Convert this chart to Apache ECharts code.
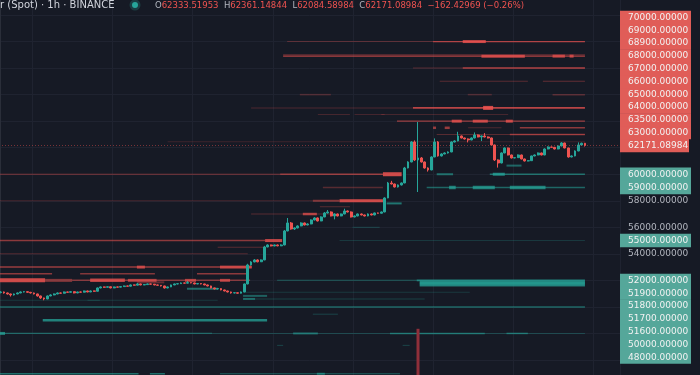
<!DOCTYPE html>
<html><head><meta charset="utf-8">
<script src="https://cdn.jsdelivr.net/npm/echarts@6/dist/echarts.min.js"></script>
<style>html,body{margin:0;padding:0;background:#161a25;overflow:hidden}#c{width:700px;height:375px}</style>
</head><body><div id="c"></div>
<script>
// ---- DATA ----
// hourly candles [open, close, low, high]
const ohlc = [
[51080,51127,51020,51190],[51127,51052,51000,51160],[51052,50977,50930,51080],[50977,50901,50780,51000],[50901,50977,50860,51010],
[50977,51052,50950,51090],[51052,51127,51030,51170],[51127,51150,51090,51200],[51150,51100,51060,51180],[51100,51052,51010,51130],
[51052,50977,50940,51080],[50977,50826,50780,51000],[50826,50675,50600,50850],[50675,50600,50500,50700],[50600,50826,50580,50860],
[50826,50901,50800,50950],[50901,50977,50880,51010],[50977,51052,50950,51090],[51052,51030,50990,51080],[51030,51127,51010,51160],
[51127,51100,51070,51150],[51100,51150,51080,51190],[51150,51052,51020,51170],[51052,51127,51030,51150],[51127,51110,51080,51160],
[51110,51203,51090,51230],[51203,51127,51100,51230],[51127,51203,51110,51240],[51203,51180,51140,51230],[51180,51429,51160,51460],
[51429,51505,51400,51540],[51505,51480,51440,51530],[51480,51520,51460,51560],[51520,51429,51400,51540],[51429,51505,51410,51530],
[51505,51490,51460,51530],[51490,51530,51470,51560],[51530,51580,51510,51610],[51580,51560,51530,51600],[51560,51655,51540,51690],
[51655,51640,51610,51680],[51640,51730,51620,51800],[51730,51655,51630,51750],[51655,51680,51640,51710],[51680,51730,51660,51760],
[51730,51710,51680,51750],[51710,51655,51630,51730],[51655,51630,51600,51680],[51630,51580,51540,51650],[51580,51429,51380,51600],
[51429,51505,51400,51530],[51505,51655,51490,51680],[51655,51730,51640,51760],[51730,51750,51700,51790],[51750,51806,51730,51840],
[51806,51790,51760,51830],[51790,51830,51770,51950],[51830,51806,51780,51850],[51806,51730,51700,51830],[51730,51760,51710,51790],
[51760,51730,51700,51780],[51730,51655,51630,51750],[51655,51580,51550,51680],[51580,51429,51400,51600],[51429,51354,51320,51450],
[51354,51380,51330,51410],[51380,51278,51250,51400],[51278,51203,51170,51300],[51203,51127,51090,51220],[51127,51052,51000,51150],
[51052,51070,51020,51100],[51070,51030,50990,51090],[51030,51127,51010,51160],[51127,51730,51100,51760],[51730,53162,51700,53250],
[53162,53388,53120,53450],[53388,53539,53360,53600],[53539,53400,53360,53580],[53400,53539,53380,53580],[53539,54518,53520,54600],
[54518,54669,54490,54720],[54669,54594,54560,54700],[54594,54669,54570,54700],[54669,54600,54570,54700],[54600,54669,54580,54720],
[54669,55724,54640,55800],[55724,56327,55700,56700],[56327,55875,55820,56400],[55875,55950,55800,56000],[55950,56101,55920,56150],
[56101,56327,56080,56380],[56327,56176,56140,56360],[56176,56252,56150,56300],[56252,56553,56230,56600],[56553,56704,56520,56760],
[56704,56478,56440,56740],[56478,56779,56460,56830],[56779,57081,56760,57150],[57081,57156,57040,57300],[57156,56855,56820,57200],
[56855,57006,56600,57050],[57006,56855,56820,57040],[56855,57006,56830,57040],[57006,57232,56980,57400],[57232,57156,57120,57270],
[57156,56779,56740,57200],[56779,56855,56750,56900],[56855,57006,56830,57040],[57006,56930,56900,57040],[56930,56855,56820,56960],
[56855,57006,56830,57050],[57006,56930,56900,57040],[56930,57081,56900,57110],[57081,57060,57030,57110],[57060,57156,57040,57190],
[57156,58211,57130,58260],[58211,59341,58190,59420],[59341,59266,59230,59500],[59266,59040,59000,59300],[59040,59191,59000,59230],
[59191,59341,59150,59380],[59341,60472,59320,60550],[60472,60924,60440,60980],[60924,62431,60900,62500],[62431,61075,61000,62550],
[61075,61226,58660,63940],[61226,60924,60880,61300],[60924,60472,60420,60960],[60472,60321,60200,60520],[60321,61301,60300,61350],
[61301,62431,61280,62700],[62431,61377,61330,62500],[61377,61527,61340,61580],[61527,61602,61500,61650],[61602,61678,61560,61720],
[61678,62431,61660,62480],[62431,62507,62400,62560],[62507,62884,62480,63200],[62884,62733,62700,62920],[62733,62657,62620,62760],
[62657,62582,62400,62700],[62582,62733,62560,62780],[62733,62959,62700,63150],[62959,62808,62780,63000],[62808,62884,62500,62920],
[62884,62808,62780,63100],[62808,62733,62700,62850],[62733,62205,62180,62760],[62205,61075,61000,62240],[61075,60849,60500,61120],
[60849,61602,60820,61650],[61602,61979,61580,62020],[61979,61452,61420,62010],[61452,61226,61190,61480],[61226,61250,61200,61290],
[61250,61452,61230,61490],[61452,61150,61120,61480],[61150,61000,60960,61180],[61000,61020,60970,61060],[61020,61377,61000,61400],
[61377,61452,61350,61490],[61452,61602,61430,61640],[61602,61452,61420,61630],[61452,61904,61430,61950],[61904,62054,61880,62100],
[62054,62030,62000,62080],[62030,61904,61870,62060],[61904,62130,61880,62170],[62130,62356,62100,62420],[62356,61979,61950,62380],
[61979,61301,61250,62000],[61301,61377,61270,61420],[61377,61753,61350,61800],[61753,62205,61730,62400],[62205,62333,62180,62380],
[62333.51953,62171.08984,62084.58984,62361.14844]
];
const futureSlots = 10;
const lastPrice = 62171.08984;
const lastChange = -162.42969;
const lastChangePct = -0.26;
const symbolTitle = 'r (Spot) · 1h · BINANCE';
// labelled price levels on the price scale
const askLevels = [70000, 69000, 68900, 68000, 67000, 66000, 65000, 64000, 63500, 63000];
const bidLevels = [60000, 59000, 55000, 52000, 51900, 51800, 51700, 51600, 50000, 48000];
const priceTickStep = 2000;
// resting order segments: [price, fromBar, toBar, thickness, strength]
const askSegments = [
[70000,85.8,129.5,1,0.3],[70000,129.5,175,1.2,0.7],[70000,138.4,145.3,3,0.8],
[69000,84.6,175,1,0.35],[68900,84.6,175,1.2,0.7],[68900,144,157,3,0.75],[68900,165.3,169,3,0.7],[68900,170.4,171.6,3,0.7],
[68000,123.5,138.4,1,0.3],[68000,138.4,175,1.5,0.7],
[67000,131.5,157.9,1,0.3],[67000,162.4,175,1,0.35],
[66000,89.6,98.9,1.5,0.25],[66000,139.9,147.1,1.5,0.25],[66000,165.3,175,1.5,0.3],
[65000,75,123.5,1,0.25],[65000,123.5,175,1.6,0.75],[65000,144.5,147.5,4,0.85],
[64500,95,104.6,1,0.22],[64500,106,115,1,0.22],[64500,114,152,1,0.22],
[64000,118.7,175,1.3,0.6],[64000,135.1,138.1,3,0.75],[64000,141.4,145.9,3,0.75],[64000,151.3,153.4,3,0.75],
[63500,129.5,130.4,2.5,0.6],[63500,133,134.5,2.5,0.6],[63500,140,150,1,0.25],[63500,155.5,175,1.5,0.55],
[63000,130.6,175,1,0.3],[63000,152.5,175,1.5,0.5],
[62450,50,175,1,0.18],
[60000,-1,83.7,1.2,0.45],[60000,83.7,114.5,1.5,0.6],[60000,114.5,120.1,4,0.85],
[59000,96.5,114.5,1.5,0.3],
[58000,-1,93.5,1,0.22],[58000,93.5,101.5,2,0.5],[58000,101.5,114.5,3,0.85],
[57550,95.6,104.6,1,0.3],
[57000,75,100,1,0.3],[57000,90.5,94.7,2.5,0.7],
[55000,-1,79.2,1.5,0.55],[55000,79.2,84.3,3,0.8],
[54500,65,79,1,0.3],
[54000,-1,74,1,0.28],
[53000,-1,75.2,1.5,0.6],[53000,40.8,43.2,3,0.7],[53000,65.7,75.2,3,0.7],
[52500,-1,15.4,1.5,0.55],[52500,23.8,46.2,1.5,0.5],[52500,58.8,74.1,1.5,0.55],
[52000,-1,13.3,4,0.85],[52000,13.3,21.4,3,0.5],[52000,21.4,74.7,1.5,0.5],[52000,26.8,37.2,3.5,0.75],
[52000,38.1,46.7,3,0.65],[52000,55.2,58.5,3,0.65],[52000,65.7,68.7,3,0.65],
[51850,40.8,49,2,0.35]
];
const bidSegments = [
[60000,130.6,135.5,2,0.6],[60000,146.5,175,1.5,0.6],[60000,147.4,151,3,0.75],
[60650,151.5,156,2,0.55],
[59000,127.6,175,1.5,0.55],[59000,134.3,136.3,3.5,0.7],[59000,141.4,148,3.5,0.7],[59000,152.5,163.2,3.5,0.7],
[57800,115.6,120.1,2,0.65],
[56000,105.4,113.5,1,0.3],
[55000,101.5,175,1,0.22],
[52000,82.8,124.6,1,0.45],[52000,124.6,175,1.8,0.75],[51900,125.5,175,1.8,0.75],[51800,125.5,175,1.8,0.8],
[51700,125.5,175,1.8,0.8],[51600,125.5,175,1.8,0.7],
[51370,55.8,65.1,2,0.6],
[51100,72.6,140.5,1,0.22],
[50830,72.6,79.8,2,0.5],
[50600,72.6,76.2,2,0.6],[50600,76.2,127,1,0.28],
[50500,-1,29.7,1,0.22],[50500,26,65,1,0.22],
[50000,-1,175,1.5,0.55],
[49450,93.5,101,1,0.3],
[49000,12.6,79.8,2.5,0.75],
[48000,-1,63.3,1.2,0.55],[48000,-1,1.3,3,0.7],[48000,63.3,175,1,0.3],[48000,87.6,95,2,0.55],
[48000,116.6,145,1.5,0.55],[48000,151.5,157.9,1.5,0.55],
[47100,82.8,84.6,1,0.3],[47100,120.4,122.5,1,0.3],
[44960,-1,41.3,1.5,0.6],[44960,44.7,49.2,1.5,0.6],[44960,65.7,119.6,1,0.5],[44960,94.7,97.1,2,0.6]
];
// isolated volume spike [bar, value]
const volumeSpikes = [[125, 14.5]];

// ---- STYLE ----
const BG = '#161a25', UP = '#26a69a', DOWN = '#ef5350';
const RED_RGB = '239,83,80', GREEN_RGB = '38,166,154';
const RED_BOX = '#e05d58', GREEN_BOX = '#55a79a';
const totalSlots = ohlc.length + futureSlots;
const slots = [];
for (let i = 0; i < totalSlots; i++) slots.push(String(i));
const candles = ohlc.map(r => [r[0], r[1], r[2], r[3]]);

function segSeries(name, segs, rgb) {
  return {
    type: 'custom', name, xAxisIndex: 1, yAxisIndex: 0, silent: true, clip: true, z: 1,
    data: segs.map(s => [s[1], s[2], s[0], s[3], s[4]]),
    renderItem(params, api) {
      const a = api.coord([api.value(0), api.value(2)]);
      const b = api.coord([api.value(1), api.value(2)]);
      const w = api.value(3);
      return { type: 'rect', shape: { x: a[0], y: a[1] - w / 2, width: b[0] - a[0], height: w },
        style: { fill: 'rgba(' + rgb + ',' + api.value(4) + ')' } };
    }
  };
}

const chart = echarts.init(document.getElementById('c'), null, { renderer: 'canvas' });
const baseOption = {
  backgroundColor: BG,
  animation: false,
  grid: { left: -1, right: 80, top: -11.5, bottom: -11.5, containLabel: false, outerBoundsMode: 'none' },
  xAxis: [
    { type: 'category', data: slots, boundaryGap: true, axisLine: { show: false }, axisTick: { show: false }, axisLabel: { show: false },
      splitLine: { show: true, interval: (i) => (i - 10) % 24 === 0, lineStyle: { color: '#1f2330', width: 1 } } },
    { type: 'value', min: -0.5, max: totalSlots - 0.5, show: false }
  ],
  yAxis: [
    { type: 'value', position: 'right', min: 44000, max: 74000, interval: priceTickStep, scale: true,
      axisLine: { show: true, lineStyle: { color: '#2a2e39' } }, axisTick: { show: false },
      axisLabel: { show: true, margin: 8, color: '#b2b5be', fontFamily: 'DejaVu Sans', fontSize: 9, formatter: v => v.toFixed(5) },
      splitLine: { show: true, lineStyle: { color: '#1f2330', width: 1 } } },
    { type: 'value', min: 0, max: 100, show: false }
  ],
  series: [
    segSeries('asks', askSegments, RED_RGB),
    segSeries('bids', bidSegments, GREEN_RGB),
    { type: 'bar', xAxisIndex: 0, yAxisIndex: 1, data: volumeSpikes, barWidth: 3, itemStyle: { color: '#8f2f3a' }, silent: true, z: 2 },
    { type: 'candlestick', xAxisIndex: 0, yAxisIndex: 0, data: candles, barWidth: '70%', z: 3,
      itemStyle: { color: UP, color0: DOWN, borderColor: UP, borderColor0: DOWN, borderWidth: 1 },
      markLine: { symbol: 'none', silent: true, animation: false, label: { show: false },
        lineStyle: { color: 'rgba(239,83,80,0.45)', type: [1, 2], width: 1 }, data: [{ yAxis: lastPrice }] } }
  ]
};
chart.setOption(baseOption);

// ---- price-scale label boxes (stacked like the original) ----
const yPix = p => chart.convertToPixel({ yAxisIndex: 0 }, p);
const BOX_H = 12.8;
const priceY = yPix(lastPrice);
const boxes = [{ p: lastPrice, y: priceY, fill: RED_BOX, w: 69 }];
let prev = priceY;
askLevels.slice().sort((a, b) => a - b).forEach(p => { const y = Math.min(yPix(p), prev - BOX_H); boxes.push({ p, y, fill: RED_BOX, w: 71 }); prev = y; });
prev = priceY;
bidLevels.slice().sort((a, b) => b - a).forEach(p => { const y = Math.max(yPix(p), prev + BOX_H); boxes.push({ p, y, fill: GREEN_BOX, w: 71 }); prev = y; });

const axisX = 620;
const graphics = [];
boxes.forEach(b => {
  graphics.push({ type: 'rect', z: 100, silent: true, shape: { x: axisX, y: b.y - BOX_H / 2 - 0.3, width: b.w, height: BOX_H + 0.6 }, style: { fill: b.fill } });
  graphics.push({ type: 'text', z: 101, silent: true, x: axisX + 8, y: b.y,
    style: { text: b.p.toFixed(5), fill: '#f2f2f2', font: '9px "DejaVu Sans"', verticalAlign: 'middle' } });
});
// header
const fmt = v => (v < 0 ? '\u2212' : '') + Math.abs(v).toFixed(5);
const last = ohlc[ohlc.length - 1];
graphics.push({ type: 'text', z: 100, silent: true, x: 0, y: 5.5,
  style: { text: symbolTitle, fill: '#d1d4dc', font: '10px "DejaVu Sans"', verticalAlign: 'middle' } });
graphics.push({ type: 'circle', z: 100, silent: true, shape: { cx: 135, cy: 5, r: 5.5 }, style: { fill: 'rgba(38,166,154,0.25)' } });
graphics.push({ type: 'circle', z: 101, silent: true, shape: { cx: 135, cy: 5, r: 3 }, style: { fill: UP } });
graphics.push({ type: 'text', z: 100, silent: true, x: 155, y: 5.5,
  style: {
    text: '{l|O}{v|' + last[0].toFixed(5) + '}  {l|H}{v|' + last[3].toFixed(5) + '}  {l|L}{v|' + last[2].toFixed(5) +
      '}  {l|C}{v|' + last[1].toFixed(5) + '}  {v|' + fmt(lastChange) + ' (' + (lastChangePct < 0 ? '\u2212' : '') + Math.abs(lastChangePct).toFixed(2) + '%)}',
    font: '8.5px "DejaVu Sans"', verticalAlign: 'middle',
    rich: { l: { fill: '#b2b5be', font: '8.5px "DejaVu Sans"' }, v: { fill: '#ef5350', font: '8.5px "DejaVu Sans"' } }
  } });

const boxYs = boxes.map(b => b.y);
chart.setOption({
  yAxis: [{ axisLabel: { formatter: v => boxYs.some(y => Math.abs(y - yPix(v)) < 10) ? '' : v.toFixed(5) } }, {}],
  graphic: graphics
});
</script>
</body></html>
